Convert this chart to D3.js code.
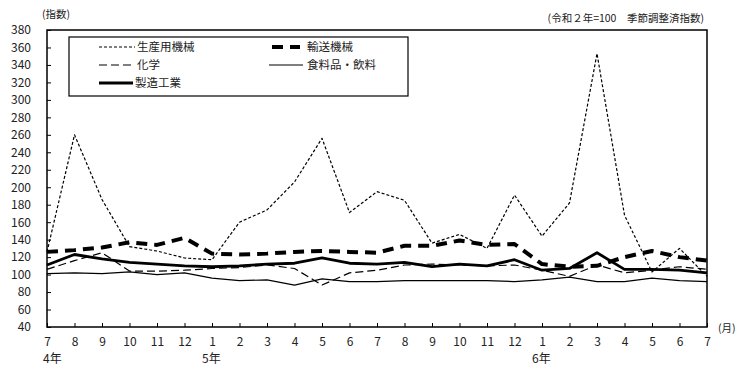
<!DOCTYPE html>
<html><head><meta charset="utf-8">
<script src="https://cdn.jsdelivr.net/npm/d3@7"></script>
<style>
body{margin:0;background:#fff;}
text{font-family:"Noto Sans CJK JP","DejaVu Sans",sans-serif;fill:#222;}
</style></head>
<body><svg id="c" width="747" height="372"></svg>
<script>
const months = ["7","8","9","10","11","12","1","2","3","4","5","6","7","8","9","10","11","12","1","2","3","4","5","6","7"];
const yearLabels = [{i:0,t:"4年"},{i:6,t:"5年"},{i:18,t:"6年"}];
const yTicks = d3.range(40, 381, 20);
const seriesNames = ["生産用機械","輸送機械","化学","食料品・飲料","製造工業"];
const seisanyou = [126,260,186,132,127,119,117,160,174,206,256,171,195,185,136,146,130,191,144,182,353,168,103,130,98];
const yusou     = [126,128,131,137,134,142,124,123,124,126,127,126,125,133,133,139,134,135,112,109,110,120,127,120,116];
const kagaku    = [106,116,125,104,104,105,107,108,111,107,88,102,105,111,112,111,110,111,105,98,111,102,105,109,106];
const shokuryo  = [101,102,101,103,100,102,96,93,94,88,95,92,92,93,93,93,93,92,94,97,92,92,96,93,92];
const seizou    = [111,123,118,114,112,110,109,110,112,113,119,113,112,114,109,112,110,117,105,107,125,106,106,105,102];

const styles = [
  {w:1.2, dash:"3,2"},
  {w:4, dash:"11,7"},
  {w:1.2, dash:"8,4"},
  {w:1.2, dash:null},
  {w:2.8, dash:null}
];
const data = [seisanyou, yusou, kagaku, shokuryo, seizou];

const svg = d3.select("#c");
const L=47, R=707, T=30, B=327;
const x = d3.scaleLinear().domain([0, months.length-1]).range([L, R]);
const y = d3.scaleLinear().domain([40, 380]).range([B, T]);

const ya = svg.append("g").attr("transform",`translate(${L},0)`)
  .call(d3.axisLeft(y).tickValues(yTicks).tickSize(-4).tickPadding(16).tickSizeOuter(0));
ya.select(".domain").remove();
ya.selectAll("text").style("font-size","12px").attr("fill","#222");
ya.selectAll("line").attr("stroke","#000");

const xa = svg.append("g").attr("transform",`translate(0,${B})`)
  .call(d3.axisBottom(x).tickValues(d3.range(months.length)).tickFormat(i=>months[i]).tickSize(-4).tickPadding(10).tickSizeOuter(0));
xa.select(".domain").remove();
xa.selectAll("text").style("font-size","12px").attr("fill","#222");
xa.selectAll("line").attr("stroke","#000");

svg.selectAll(".yr").data(yearLabels).enter().append("text")
  .attr("x", d => d.i===0 ? x(d.i)-4 : x(d.i)-10).attr("y", 363)
  .style("font-size","12px").text(d=>d.t);

svg.append("rect").attr("x",L).attr("y",T).attr("width",R-L).attr("height",B-T)
  .attr("fill","none").attr("stroke","#000").attr("stroke-width",1.5);

const line = d3.line().x((d,i)=>x(i)).y(d=>y(d));
data.forEach((s,k)=>{
  svg.append("path").datum(s).attr("d",line).attr("fill","none")
    .attr("stroke","#000").attr("stroke-width",styles[k].w)
    .attr("stroke-dasharray",styles[k].dash).attr("stroke-linejoin","round");
});

svg.append("rect").attr("x",69).attr("y",37).attr("width",339).attr("height",59)
  .attr("fill","#fff").attr("stroke","#000").attr("stroke-width",1.2);
const leg = [
  {k:0, x1:99, x2:135, tx:137, y:47},
  {k:1, x1:272, x2:300, tx:307, y:47},
  {k:2, x1:99, x2:135, tx:137, y:65},
  {k:3, x1:269, x2:303, tx:307, y:65},
  {k:4, x1:99, x2:133, tx:135, y:83}
];
leg.forEach(e=>{
  svg.append("line").attr("x1",e.x1).attr("x2",e.x2).attr("y1",e.y).attr("y2",e.y)
    .attr("stroke","#000").attr("stroke-width",styles[e.k].w)
    .attr("stroke-dasharray",styles[e.k].dash);
  svg.append("text").attr("x",e.tx).attr("y",e.y).attr("dy","0.36em")
    .style("font-size","11.5px").text(seriesNames[e.k]);
});

svg.append("text").attr("x",42).attr("y",18).style("font-size","10.5px").text("(指数)");
svg.append("text").attr("x",704).attr("y",22).attr("text-anchor","end").style("font-size","10.5px").text("(令和２年=100　季節調整済指数)");
svg.append("text").attr("x",718).attr("y",332).style("font-size","10.5px").text("(月)");
</script></body></html>
